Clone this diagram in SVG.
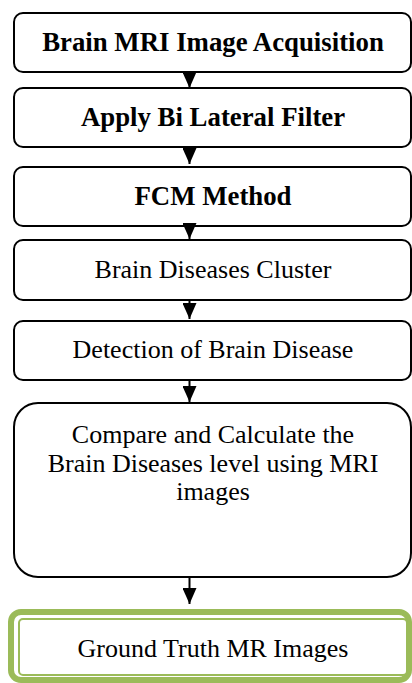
<svg xmlns="http://www.w3.org/2000/svg" width="412" height="683" viewBox="0 0 412 683">
<style>
.box{fill:#fff;stroke:#000;stroke-width:2}
.t{font-family:"Liberation Serif","Times New Roman",serif;font-size:26px;fill:#000;text-anchor:middle}
.b{font-weight:bold;font-size:26.8px}
.c{stroke:#000;stroke-width:2;fill:none}
</style>
<defs>
<marker id="ah" markerUnits="userSpaceOnUse" markerWidth="16" markerHeight="14" viewBox="0 0 16 14" refX="16" refY="7" orient="auto">
<path d="M0,0 L16,7 L0,14 Z" fill="#000"/>
</marker>
</defs>
<rect width="412" height="683" fill="#fff"/>
<g id="n1"><rect class="box" x="14" y="13" width="397" height="59" rx="9"/><text class="t b" x="213" y="51">Brain MRI Image Acquisition</text></g>
<g id="n2"><rect class="box" x="14" y="88" width="397" height="59" rx="9"/><text class="t b" x="213" y="126">Apply Bi Lateral Filter</text></g>
<g id="n3"><rect class="box" x="14" y="167" width="397" height="59" rx="9"/><text class="t b" x="213" y="205">FCM Method</text></g>
<g id="n4"><rect class="box" x="14" y="240" width="397" height="60" rx="9"/><text class="t" x="213" y="278">Brain Diseases Cluster</text></g>
<g id="n5"><rect class="box" x="14" y="321" width="397" height="59" rx="9"/><text class="t" x="213" y="358">Detection of Brain Disease</text></g>
<g id="n6"><rect class="box" x="14" y="403" width="397" height="174" rx="24"/><text class="t" x="213" y="443">Compare and Calculate the</text><text class="t" x="213" y="472">Brain Diseases level using MRI</text><text class="t" x="213" y="500">images</text></g>
<g id="n7"><rect x="11" y="612" width="398" height="68" rx="10" fill="#fff" stroke="#9bbb59" stroke-width="6"/><rect x="19" y="619" width="388" height="56" rx="4" fill="#fff" stroke="#9bbb59" stroke-width="2"/><text class="t" x="213" y="657">Ground Truth MR Images</text></g>
<g id="connectors">
<line class="c" x1="189.5" y1="72" x2="189.5" y2="88" marker-end="url(#ah)"/>
<line class="c" x1="189.5" y1="147" x2="189.5" y2="164" marker-end="url(#ah)"/>
<line class="c" x1="189.5" y1="226" x2="189.5" y2="239" marker-end="url(#ah)"/>
<line class="c" x1="189.5" y1="300" x2="189.5" y2="319" marker-end="url(#ah)"/>
<line class="c" x1="189.5" y1="380" x2="189.5" y2="402" marker-end="url(#ah)"/>
<line class="c" x1="189.5" y1="577" x2="189.5" y2="604" marker-end="url(#ah)"/>
</g>
</svg>
